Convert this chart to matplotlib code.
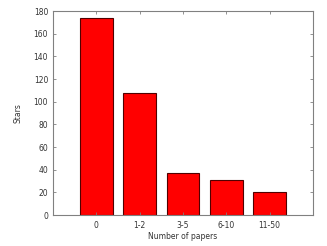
import matplotlib
matplotlib.use("Agg")
import matplotlib.pyplot as plt

categories = ["0", "1-2", "3-5", "6-10", "11-50"]
stars = [174, 108, 37, 31, 20]

fig = plt.figure(figsize=(3.27, 2.46), dpi=100)
ax = fig.add_axes([0.162, 0.126, 0.795, 0.829])

x = list(range(len(categories)))
ax.bar(x, stars, width=0.75, color="#ff0000", edgecolor="#500000", linewidth=0.8)

ax.set_xlim(-1, 5)
ax.set_ylim(0, 180)
ax.set_yticks(range(0, 181, 20))
ax.set_xticks(x)
ax.set_xticklabels(categories)

for s in ax.spines.values():
    s.set_color("#808080")
    s.set_linewidth(0.8)
ax.tick_params(direction="in", length=2.5, width=0.6, color="#808080",
               labelsize=5.5, labelcolor="#333333", top=True, right=True)
ax.tick_params(axis="x", pad=4)
ax.set_xlabel("Number of papers", fontsize=5.5, color="#333333", labelpad=2)
ax.set_ylabel("Stars", fontsize=5.5, color="#333333", labelpad=8)

fig.savefig("out.png", dpi=100)
